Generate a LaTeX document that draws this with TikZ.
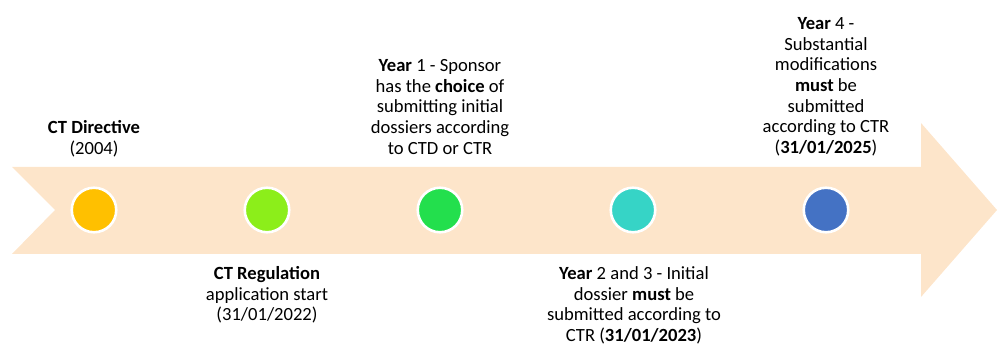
\documentclass[tikz,border=0pt]{standalone}
\usepackage{fontspec}
\setmainfont{Carlito}
\begin{document}
\begin{tikzpicture}[x=1pt,y=-1pt,
  band/.style={fill=bandpeach, draw=none},
  dot/.style={circle, draw=white, line width=2.6pt, minimum size=44.5pt, inner sep=0pt},
  label/.style={align=center, inner sep=0pt, anchor=north,
    font=\fontsize{18.6}{20.6}\selectfont}
]
\definecolor{bandpeach}{HTML}{FDE5CA}
\definecolor{c1}{HTML}{FFC000}
\definecolor{c2}{HTML}{8CEE1A}
\definecolor{c3}{HTML}{23DF4D}
\definecolor{c4}{HTML}{36D4C6}
\definecolor{c5}{HTML}{4472C4}
\useasboundingbox (0,0) rectangle (997,344);

% timeline arrow
\path[band] (12,167) -- (921,167) -- (921,123) -- (997,210)
  -- (921,297) -- (921,254) -- (12,254) -- (55,210) -- cycle;

% milestones
\node[dot, fill=c1] (m1) at (94,210) {};
\node[dot, fill=c2] (m2) at (267,210) {};
\node[dot, fill=c3] (m3) at (440,210) {};
\node[dot, fill=c4] (m4) at (633,210) {};
\node[dot, fill=c5] (m5) at (826,210) {};

% descriptions
\node[label] (t1) at (94,120.5) {\textbf{CT Directive}\\(2004)};
\node[label] (t2) at (267,266.5) {\textbf{CT Regulation}\\application start\\(31/01/2022)};
\node[label] (t3) at (440,59.5) {\textbf{Year} 1 - Sponsor\\has the \textbf{choice} of\\submitting initial\\dossiers according\\to CTD or CTR};
\node[label] (t4) at (634,266.5) {\textbf{Year} 2 and 3 - Initial\\dossier \textbf{must} be\\submitted according to\\CTR (\textbf{31/01/2023})};
\node[label] (t5) at (826,17.5) {\textbf{Year} 4 -\\Substantial\\modifications\\\textbf{must} be\\submitted\\according to CTR\\(\textbf{31/01/2025})};
\end{tikzpicture}
\end{document}
